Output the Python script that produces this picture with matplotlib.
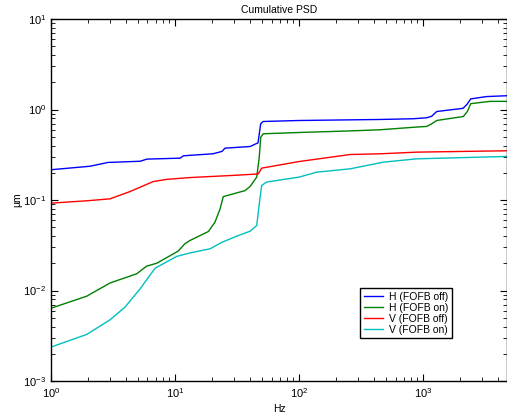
import matplotlib
matplotlib.use("Agg")
import matplotlib.pyplot as plt

plt.rcParams['font.family'] = ['Liberation Sans', 'DejaVu Sans']
plt.rcParams['mathtext.fontset'] = 'custom'
plt.rcParams['mathtext.rm'] = 'Liberation Sans'
plt.rcParams['mathtext.it'] = 'Liberation Sans'
plt.rcParams['mathtext.bf'] = 'Liberation Sans'

# Cumulative PSD curves (frequency in Hz, integrated amplitude in um)
h_off_f = [1, 2.06, 2.88, 5.22, 5.95, 11.0, 11.7, 20.2, 23.9, 25.3, 40.3, 46.7,
           49.1, 51.3, 100, 450, 830, 1071, 1175, 1289, 2102, 2264, 2425, 3266, 4756]
h_off = [0.216, 0.236, 0.26, 0.268, 0.283, 0.29, 0.308, 0.324, 0.344, 0.374, 0.39, 0.428,
         0.695, 0.737, 0.756, 0.776, 0.79, 0.81, 0.843, 0.95, 1.03, 1.14, 1.31, 1.39, 1.42]

h_on_f = [1, 1.94, 2.99, 4.91, 5.91, 7.11, 10.6, 12.0, 13.2, 18.6, 21.0, 23.1, 24.5,
          36.7, 40.3, 45.6, 47.8, 49.1, 51.5, 100, 258, 450, 889, 1071, 1175, 1289,
          2114, 2277, 2425, 3469, 4756]
h_on = [0.00637, 0.00865, 0.0121, 0.0153, 0.0186, 0.020, 0.0272, 0.0328, 0.0357, 0.0449,
        0.0569, 0.08, 0.109, 0.127, 0.141, 0.179, 0.297, 0.494, 0.539, 0.557, 0.58, 0.597,
        0.64, 0.65, 0.695, 0.756, 0.837, 0.95, 1.16, 1.23, 1.23]

v_off_f = [1, 1.94, 2.99, 4.34, 6.68, 8.57, 13.2, 29.5, 46.9, 50, 100, 258, 450, 889, 4756]
v_off = [0.0923, 0.098, 0.103, 0.124, 0.16, 0.169, 0.177, 0.187, 0.194, 0.225, 0.266,
         0.318, 0.324, 0.338, 0.35]

v_on_f = [1, 1.94, 2.99, 3.95, 5.22, 6.9, 10.3, 13.2, 19.2, 23.8, 31.4, 40.3, 45.6,
          47.8, 50, 54.9, 100, 139, 258, 479, 889, 4756]
v_on = [0.00237, 0.00327, 0.00474, 0.00655, 0.0104, 0.0176, 0.0238, 0.026, 0.0289, 0.034,
        0.0398, 0.0452, 0.0523, 0.0908, 0.145, 0.158, 0.179, 0.203, 0.221, 0.262, 0.285, 0.303]

fig = plt.figure(figsize=(5.07, 4.18), dpi=100)
ax = fig.add_axes([51 / 507, 1 - 381 / 418, 456 / 507, 362 / 418])

ax.loglog(h_off_f, h_off, color='#0000ff', lw=1.0, label='H (FOFB off)')
ax.loglog(h_on_f, h_on, color='#008000', lw=1.0, label='H (FOFB on)')
ax.loglog(v_off_f, v_off, color='#ff0000', lw=1.0, label='V (FOFB off)')
ax.loglog(v_on_f, v_on, color='#00bfbf', lw=1.0, label='V (FOFB on)')

ax.set_xlim(1, 4756)
ax.set_ylim(1e-3, 10)

ax.tick_params(which='both', direction='in', top=True, right=True, labelsize=8)
ax.tick_params(which='major', length=5, width=0.8)
ax.tick_params(which='minor', length=3, width=0.6)
for s in ax.spines.values():
    s.set_linewidth(1.0)

ax.set_title('Cumulative PSD', fontsize=7.5, pad=4)
ax.set_xlabel('Hz', fontsize=7.5, labelpad=3)
ax.set_ylabel('µm', fontsize=7.5, labelpad=0.5)

leg = ax.legend(loc='lower right', bbox_to_anchor=(0.879, 0.118), borderaxespad=0,
                fontsize=7.5, fancybox=False, framealpha=1, edgecolor='black',
                handlelength=1.8, handletextpad=0.6, labelspacing=0.1, borderpad=0.35)
leg.get_frame().set_linewidth(1.0)

fig.savefig('out.png', dpi=100)
